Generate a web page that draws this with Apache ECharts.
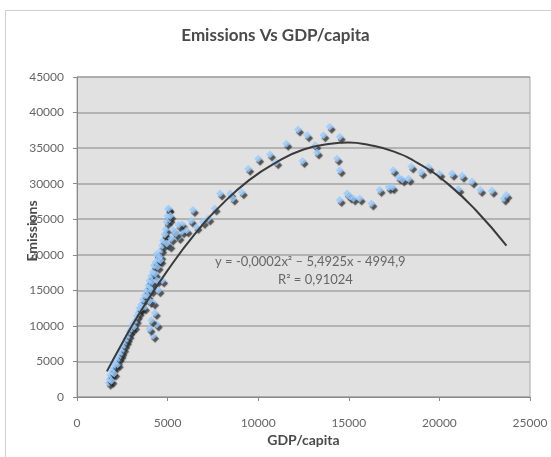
<!DOCTYPE html>
<html>
<head>
<meta charset="utf-8">
<script src="https://cdn.jsdelivr.net/npm/echarts@6/dist/echarts.min.js"></script>
<style>
  html, body { margin: 0; padding: 0; background: #fff; }
  #chart { width: 551px; height: 457px; }
</style>
</head>
<body>
<div id="chart"></div>
<script>
  // GDP per capita vs emissions
  const gdp = [
    1750, 1800, 1850, 1900, 1950, 2000, 2050, 2100, 2200, 2250,
    2300, 2400, 2450, 2550, 2600, 2700, 2750, 2850, 2900, 3000,
    3100, 3150, 3250, 3300, 3400, 3450, 3550, 3650, 3700, 3750,
    3850, 3900, 3950, 4000, 4050, 4100, 4150, 4200, 4250, 4300,
    4350, 4400, 4450, 4500, 4600, 4650, 4700, 4750, 4850, 4900,
    4950, 5000, 5050, 5100, 4300, 4400, 4200, 4000, 4100, 4400,
    4700, 4200, 4000, 3500, 4100, 4500, 4600, 4850, 5100, 5200,
    5600, 5800, 5800, 6050, 5600, 6400, 6300, 6600, 6950, 7250,
    7600, 7900, 8450, 8600, 9100, 9450, 10000, 10650, 11000, 11550,
    12200, 12700, 12450, 13150, 13250, 13600, 13950, 14500, 14350, 14500,
    14500, 14900, 15050, 15250, 15600, 16250, 16700, 17200, 17400, 17450,
    17750, 17950, 18300, 18450, 19000, 19400, 20000, 20700, 21250, 21050,
    21800, 22250, 22900, 23550, 23700, 5050, 5150, 4950, 5300, 5450
  ];
  const emissions = [
    2000, 2500, 3100, 2300, 3500, 4000, 3300, 4500, 5000, 4600,
    5500, 5900, 6300, 6800, 7300, 7800, 8200, 8700, 9200, 9600,
    10300, 9900, 10800, 11400, 11900, 12500, 13000, 13700, 12600, 14300,
    15000, 14200, 15700, 16400, 15500, 17000, 16200, 17600, 18500, 17300,
    19000, 20100, 18300, 19400, 19800, 20700, 21300, 22000, 22800, 23600,
    24600, 25500, 26400, 25000, 11800, 10200, 8600, 9600, 10800, 16400,
    16400, 13300, 13500, 12400, 15000, 15000, 19200, 22900, 21300, 22300,
    22500, 23300, 24300, 23400, 24200, 26300, 24800, 23900, 24600, 25100,
    26500, 28600, 28600, 27900, 28800, 32100, 33500, 34100, 33000, 35600,
    37600, 36800, 33200, 35400, 34400, 36800, 38000, 36600, 33500, 31900,
    27700, 28600, 28200, 27900, 27900, 27200, 29100, 29500, 29500, 31900,
    30900, 30600, 30700, 32400, 31600, 32300, 31400, 31400, 31100, 29200,
    30300, 29100, 29000, 27900, 28400, 26500, 25500, 21600, 23500, 23000
  ];

  // polynomial trendline as it is drawn in the picture
  const trendX = [1650, 2500, 3500, 5000, 6500, 8000, 9500, 11000, 12500, 14000, 15000, 16000, 17500, 19000, 20500, 22000, 23700];
  const trendY = [3600, 7600, 12000, 17800, 22900, 27100, 30500, 33000, 34800, 35600, 35800, 35500, 34500, 32600, 29900, 26300, 21300];

  const xTicks = [0, 5000, 10000, 15000, 20000, 25000];
  const yTicks = [0, 5000, 10000, 15000, 20000, 25000, 30000, 35000, 40000, 45000];

  const points = gdp.map((g, i) => [g, emissions[i]]);
  const trend = trendX.map((g, i) => [g, trendY[i]]);

  const chart = echarts.init(document.getElementById('chart'));

  const option = {
    backgroundColor: '#fff',
    animation: false,
    title: {
      text: 'Emissions Vs GDP/capita',
      left: 'center',
      top: 22,
      textStyle: {
        fontFamily: 'Lato',
        fontSize: 17,
        fontWeight: 'bold',
        color: '#4a4a4a',
      },
    },
    grid: {
      left: 77,
      right: 21,
      top: 77,
      bottom: 60,
      show: true,
      backgroundColor: '#e1e1e1',
      borderColor: '#a8a8a8',
      borderWidth: 1,
    },
    xAxis: {
      type: 'value',
      min: xTicks[0],
      max: xTicks[xTicks.length - 1],
      interval: 5000,
      name: 'GDP/capita',
      nameLocation: 'middle',
      nameGap: 36,
      nameMoveOverlap: false,
      nameTextStyle: {
        fontFamily: 'Lato',
        fontSize: 14,
        fontWeight: 'bold',
        color: '#4a4a4a',
      },
      axisLine: { show: true, lineStyle: { color: '#8a8a8a', width: 1 } },
      axisTick: { show: true, length: 4, lineStyle: { color: '#8a8a8a' } },
      axisLabel: {
        margin: 20,
        fontFamily: 'Lato',
        fontSize: 12,
        color: '#666',
        formatter: (v) => String(v),
      },
      splitLine: { show: false },
    },
    yAxis: {
      type: 'value',
      min: yTicks[0],
      max: yTicks[yTicks.length - 1],
      interval: 5000,
      name: 'Emissions',
      nameLocation: 'middle',
      nameGap: 38,
      nameRotate: 90,
      nameMoveOverlap: false,
      nameTextStyle: {
        fontFamily: 'Lato',
        fontSize: 14,
        fontWeight: 'bold',
        color: '#4a4a4a',
        padding: [0, 0, 0, 12],
      },
      axisLine: { show: true, lineStyle: { color: '#8a8a8a', width: 1 } },
      axisTick: { show: true, length: 4, lineStyle: { color: '#8a8a8a' } },
      axisLabel: {
        margin: 13,
        fontFamily: 'Lato',
        fontSize: 12,
        color: '#666',
        formatter: (v) => String(v),
      },
      splitLine: { show: true, lineStyle: { color: '#a3a3a3', width: 1.5 } },
    },
    graphic: [
      {
        type: 'rect',
        shape: { x: 5.5, y: 10.5, width: 600, height: 500 },
        style: { fill: 'none', stroke: '#cfcfcf', lineWidth: 1 },
        silent: true,
        z: -1,
      },
      {
        type: 'text',
        left: 215,
        top: 255,
        style: {
          text: 'y = -0,0002x\u00b2 \u2013 5,4925x - 4994,9',
          fontFamily: 'Lato',
          fontSize: 13,
          fill: '#666',
        },
        z: 100,
      },
      {
        type: 'text',
        left: 278,
        top: 273,
        style: {
          text: 'R\u00b2 = 0,91024',
          fontFamily: 'Lato',
          fontSize: 13,
          fill: '#666',
        },
        z: 100,
      },
    ],
    series: [
      {
        name: 'Emissions',
        type: 'scatter',
        data: points,
        symbol: 'diamond',
        symbolSize: 8,
        itemStyle: {
          color: '#99ccff',
          shadowColor: 'rgba(30,30,30,0.9)',
          shadowBlur: 1,
          shadowOffsetX: 2,
          shadowOffsetY: 3,
        },
        z: 3,
      },
      {
        name: 'Trend',
        type: 'line',
        data: trend,
        smooth: true,
        showSymbol: false,
        lineStyle: { color: '#3a3a3a', width: 2 },
        z: 4,
      },
    ],
  };

  chart.setOption(option);
</script>
</body>
</html>
